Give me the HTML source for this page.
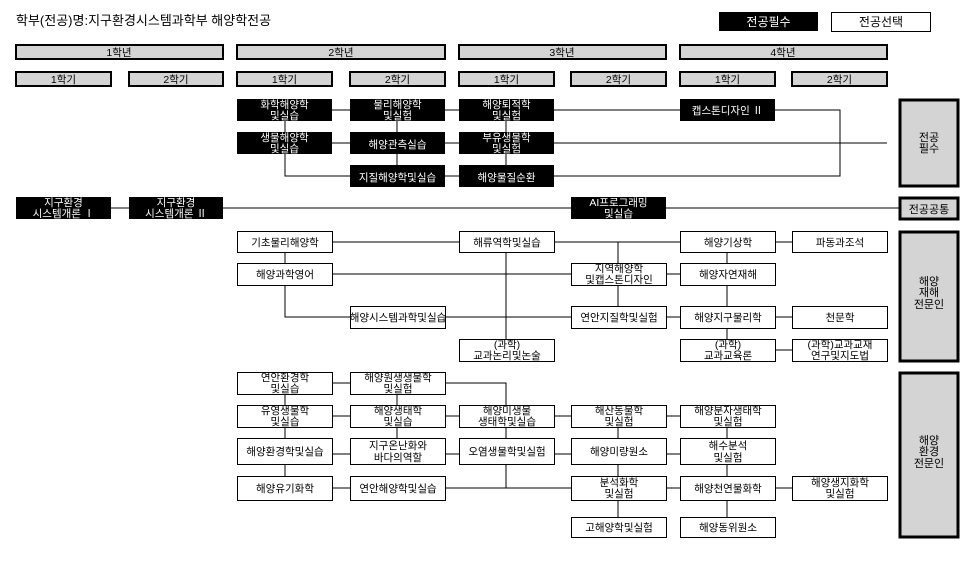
<!DOCTYPE html>
<html><head><meta charset="utf-8"><style>
html,body{margin:0;padding:0;background:#fff;}
svg{display:block;}
text{font-family:"Liberation Sans","Noto Sans CJK KR","NanumGothic",sans-serif;font-size:10.5px;text-anchor:middle;fill:#000;}
.w{fill:#fff;}
.hd{fill:#d4d4d4;stroke:#000;stroke-width:2;}
.cat{fill:#d4d4d4;stroke:#000;stroke-width:3;}
.b{fill:#000;}
.o{fill:#fff;stroke:#000;stroke-width:1;}
line,polyline{stroke:#000;stroke-width:1;fill:none;}
</style></head><body>
<svg width="974" height="564" viewBox="0 0 974 564" xmlns="http://www.w3.org/2000/svg">
<text x="16" y="25" style="text-anchor:start;font-size:13px">학부(전공)명:지구환경시스템과학부 해양학전공</text>
<rect x="719" y="12" width="99" height="19" class="b"/><text x="768.5" y="26" class="w" style="font-size:12px">전공필수</text>
<rect x="831.5" y="12.5" width="99" height="19" class="o"/><text x="881" y="26" style="font-size:12px">전공선택</text>

<!-- year headers -->
<rect x="16" y="45" width="207" height="14" class="hd"/><text x="119" y="56">1학년</text>
<rect x="237" y="45" width="208" height="14" class="hd"/><text x="341" y="56">2학년</text>
<rect x="459" y="45" width="207" height="14" class="hd"/><text x="562" y="56">3학년</text>
<rect x="680" y="45" width="207" height="14" class="hd"/><text x="783" y="56">4학년</text>
<rect x="16" y="72" width="95" height="14" class="hd"/><text x="63.5" y="83">1학기</text>
<rect x="129" y="72" width="94" height="14" class="hd"/><text x="176" y="83">2학기</text>
<rect x="237" y="72" width="95" height="14" class="hd"/><text x="284.5" y="83">1학기</text>
<rect x="350" y="72" width="95" height="14" class="hd"/><text x="397.5" y="83">2학기</text>
<rect x="459" y="72" width="95" height="14" class="hd"/><text x="506.5" y="83">1학기</text>
<rect x="571" y="72" width="95" height="14" class="hd"/><text x="618.5" y="83">2학기</text>
<rect x="680" y="72" width="95" height="14" class="hd"/><text x="727.5" y="83">1학기</text>
<rect x="792" y="72" width="95" height="14" class="hd"/><text x="839.5" y="83">2학기</text>

<!-- category boxes -->
<rect x="900" y="100" width="58" height="86" class="cat"/><text x="929" y="141" style="font-size:11px">전공</text><text x="929" y="152" style="font-size:11px">필수</text>
<rect x="900" y="198" width="58" height="21" class="cat"/><text x="929" y="213" style="font-size:11px">전공공통</text>
<rect x="900" y="232" width="58" height="129" class="cat"/><text x="929" y="285" style="font-size:11px">해양</text><text x="929" y="296" style="font-size:11px">재해</text><text x="929" y="308" style="font-size:11px">전문인</text>
<rect x="900" y="373" width="58" height="164" class="cat"/><text x="929" y="444" style="font-size:11px">해양</text><text x="929" y="455" style="font-size:11px">환경</text><text x="929" y="467" style="font-size:11px">전문인</text>

<!-- required lines -->
<line x1="332" y1="110" x2="350" y2="110"/><line x1="445" y1="110" x2="459" y2="110"/>
<line x1="554" y1="110" x2="680" y2="110"/>
<polyline points="775,110 840,110 840,176 554,176"/>
<line x1="332" y1="143" x2="350" y2="143"/><line x1="445" y1="143" x2="459" y2="143"/>
<line x1="554" y1="143" x2="887" y2="143"/>
<line x1="445" y1="176" x2="459" y2="176"/>
<line x1="285" y1="121" x2="285" y2="132"/>
<polyline points="285,154 285,176 350,176"/>
<line x1="397" y1="121" x2="397" y2="165"/>
<line x1="506" y1="121" x2="506" y2="165"/>
<line x1="111" y1="208" x2="900" y2="208"/>

<rect x="237" y="99" width="95" height="22" class="b"/><text x="284.5" y="108" class="w">화학해양학</text><text x="284.5" y="119" class="w">및실습</text>
<rect x="350" y="99" width="95" height="22" class="b"/><text x="397.5" y="108" class="w">물리해양학</text><text x="397.5" y="119" class="w">및실험</text>
<rect x="459" y="99" width="95" height="22" class="b"/><text x="506.5" y="108" class="w">해양퇴적학</text><text x="506.5" y="119" class="w">및실험</text>
<rect x="680" y="99" width="95" height="22" class="b"/><text x="727.5" y="114" class="w">캡스톤디자인 Ⅱ</text>
<rect x="237" y="132" width="95" height="22" class="b"/><text x="284.5" y="141" class="w">생물해양학</text><text x="284.5" y="152" class="w">및실습</text>
<rect x="350" y="132" width="95" height="22" class="b"/><text x="397.5" y="148" class="w">해양관측실습</text>
<rect x="459" y="132" width="95" height="22" class="b"/><text x="506.5" y="141" class="w">부유생물학</text><text x="506.5" y="152" class="w">및실험</text>
<rect x="350" y="165" width="95" height="22" class="b"/><text x="397.5" y="181" class="w">지질해양학및실습</text>
<rect x="459" y="165" width="95" height="22" class="b"/><text x="506.5" y="181" class="w">해양물질순환</text>
<rect x="16" y="197" width="95" height="22" class="b"/><text x="63.5" y="206" class="w">지구환경</text><text x="63.5" y="217" class="w">시스템개론 Ⅰ</text>
<rect x="129" y="197" width="94" height="22" class="b"/><text x="176" y="206" class="w">지구환경</text><text x="176" y="217" class="w">시스템개론 Ⅱ</text>
<rect x="571" y="197" width="95" height="22" class="b"/><text x="618.5" y="206" class="w">AI프로그래밍</text><text x="618.5" y="217" class="w">및실습</text>

<!-- 해양재해 lines -->
<line x1="332" y1="242" x2="459" y2="242"/><line x1="554" y1="242" x2="680" y2="242"/>
<line x1="775" y1="242" x2="792" y2="242"/>
<line x1="332" y1="274" x2="571" y2="274"/><line x1="666" y1="274" x2="680" y2="274"/>
<line x1="285" y1="252" x2="285" y2="263"/>
<polyline points="285,285 285,317 350,317"/>
<line x1="445" y1="317" x2="571" y2="317"/><line x1="666" y1="317" x2="680" y2="317"/>
<line x1="775" y1="317" x2="792" y2="317"/>
<line x1="506" y1="252" x2="506" y2="339"/>
<line x1="618" y1="242" x2="618" y2="306"/>
<line x1="727" y1="252" x2="727" y2="339"/>
<line x1="775" y1="350" x2="792" y2="350"/>

<rect x="237.5" y="231.5" width="95" height="21" class="o"/><text x="285" y="246">기초물리해양학</text>
<rect x="237.5" y="263.5" width="95" height="22" class="o"/><text x="285" y="278">해양과학영어</text>
<rect x="350.5" y="306.5" width="95" height="22" class="o"/><text x="398" y="321">해양시스템과학및실습</text>
<rect x="459.5" y="231.5" width="95" height="21" class="o"/><text x="507" y="246">해류역학및실습</text>
<rect x="459.5" y="339.5" width="95" height="22" class="o"/><text x="507" y="348">(과학)</text><text x="507" y="359">교과논리및논술</text>
<rect x="571.5" y="263.5" width="95" height="22" class="o"/><text x="619" y="272">지역해양학</text><text x="619" y="283">및캡스톤디자인</text>
<rect x="571.5" y="306.5" width="95" height="22" class="o"/><text x="619" y="321">연안지질학및실험</text>
<rect x="680.5" y="231.5" width="95" height="21" class="o"/><text x="728" y="246">해양기상학</text>
<rect x="680.5" y="263.5" width="95" height="22" class="o"/><text x="728" y="278">해양자연재해</text>
<rect x="680.5" y="306.5" width="95" height="22" class="o"/><text x="728" y="321">해양지구물리학</text>
<rect x="680.5" y="339.5" width="95" height="22" class="o"/><text x="728" y="348">(과학)</text><text x="728" y="359">교과교육론</text>
<rect x="792.5" y="231.5" width="95" height="21" class="o"/><text x="840" y="246">파동과조석</text>
<rect x="792.5" y="306.5" width="95" height="22" class="o"/><text x="840" y="321">천문학</text>
<rect x="792.5" y="339.5" width="95" height="22" class="o"/><text x="840" y="348">(과학)교과교재</text><text x="840" y="359">연구및지도법</text>

<!-- 해양환경 lines -->
<line x1="332" y1="383" x2="350" y2="383"/>
<polyline points="445,383 506,383 506,405"/>
<line x1="285" y1="394" x2="285" y2="476"/>
<line x1="397" y1="394" x2="397" y2="438"/>
<line x1="332" y1="416" x2="350" y2="416"/><line x1="445" y1="416" x2="459" y2="416"/>
<line x1="554" y1="416" x2="571" y2="416"/><line x1="666" y1="416" x2="680" y2="416"/>
<line x1="332" y1="454" x2="350" y2="454"/><line x1="445" y1="454" x2="459" y2="454"/>
<line x1="554" y1="454" x2="571" y2="454"/><line x1="666" y1="454" x2="680" y2="454"/>
<line x1="332" y1="488" x2="350" y2="488"/>
<line x1="445" y1="488" x2="571" y2="488"/>
<line x1="506" y1="427" x2="506" y2="488"/>
<line x1="618" y1="427" x2="618" y2="517"/>
<line x1="727" y1="427" x2="727" y2="517"/>
<line x1="666" y1="488" x2="680" y2="488"/><line x1="775" y1="488" x2="792" y2="488"/>

<rect x="237.5" y="372.5" width="95" height="22" class="o"/><text x="285" y="381">연안환경학</text><text x="285" y="392">및실습</text>
<rect x="237.5" y="405.5" width="95" height="22" class="o"/><text x="285" y="414">유영생물학</text><text x="285" y="425">및실습</text>
<rect x="237.5" y="438.5" width="95" height="26" class="o"/><text x="285" y="455">해양환경학및실습</text>
<rect x="237.5" y="476.5" width="95" height="24" class="o"/><text x="285" y="492">해양유기화학</text>
<rect x="350.5" y="372.5" width="95" height="22" class="o"/><text x="398" y="381">해양원생생물학</text><text x="398" y="392">및실험</text>
<rect x="350.5" y="405.5" width="95" height="22" class="o"/><text x="398" y="414">해양생태학</text><text x="398" y="425">및실습</text>
<rect x="350.5" y="438.5" width="95" height="26" class="o"/><text x="398" y="449">지구온난화와</text><text x="398" y="461">바다의역할</text>
<rect x="350.5" y="476.5" width="95" height="24" class="o"/><text x="398" y="492">연안해양학및실습</text>
<rect x="459.5" y="405.5" width="95" height="22" class="o"/><text x="507" y="414">해양미생물</text><text x="507" y="425">생태학및실습</text>
<rect x="459.5" y="438.5" width="95" height="26" class="o"/><text x="507" y="455">오염생물학및실험</text>
<rect x="571.5" y="405.5" width="95" height="22" class="o"/><text x="619" y="414">해산동물학</text><text x="619" y="425">및실험</text>
<rect x="571.5" y="438.5" width="95" height="26" class="o"/><text x="619" y="455">해양미량원소</text>
<rect x="571.5" y="476.5" width="95" height="24" class="o"/><text x="619" y="486">분석화학</text><text x="619" y="497">및실험</text>
<rect x="571.5" y="517.5" width="95" height="20" class="o"/><text x="619" y="531">고해양학및실험</text>
<rect x="680.5" y="405.5" width="95" height="22" class="o"/><text x="728" y="414">해양분자생태학</text><text x="728" y="425">및실험</text>
<rect x="680.5" y="438.5" width="95" height="26" class="o"/><text x="728" y="449">해수분석</text><text x="728" y="461">및실험</text>
<rect x="680.5" y="476.5" width="95" height="24" class="o"/><text x="728" y="492">해양천연물화학</text>
<rect x="680.5" y="517.5" width="95" height="20" class="o"/><text x="728" y="531">해양동위원소</text>
<rect x="792.5" y="476.5" width="95" height="24" class="o"/><text x="840" y="486">해양생지화학</text><text x="840" y="497">및실험</text>
</svg>
</body></html>
